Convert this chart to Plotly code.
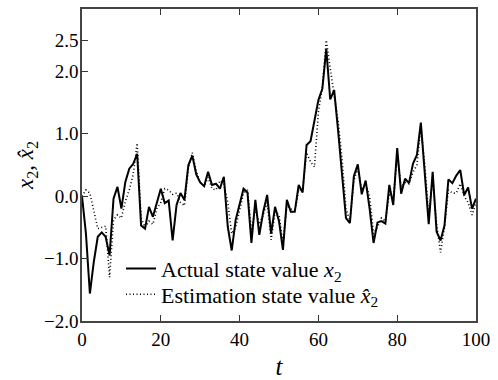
import plotly.graph_objects as go

t = list(range(0, 101))

actual_x2 = [
    0.0, -0.6, -1.56, -1.05, -0.65, -0.58, -0.65, -0.95, -0.04, 0.15,
    -0.2, 0.23, 0.44, 0.52, 0.68, -0.47, -0.52, -0.17, -0.33, -0.1,
    0.12, -0.11, -0.07, -0.71, -0.14, 0.05, -0.06, 0.5, 0.65, 0.35,
    0.22, 0.16, 0.39, 0.18, 0.2, 0.12, 0.31, -0.49, -0.87, -0.38,
    -0.15, 0.12, 0.06, -0.75, -0.06, -0.62, -0.25, 0.02, -0.6, -0.17,
    -0.4, -0.86, -0.06, -0.25, -0.25, 0.18, 0.06, 0.82, 0.88, 1.22,
    1.54, 1.72, 2.36, 1.55, 1.7, 1.05, 0.35, -0.35, -0.43, 0.32,
    0.51, 0.03, 0.25, -0.2, -0.75, -0.42, -0.4, -0.44, 0.18, -0.14,
    0.77, 0.04, 0.28, 0.21, 0.52, 0.66, 1.18, 0.35, -0.45, 0.39,
    -0.57, -0.71, -0.47, 0.27, 0.21, 0.33, 0.42, 0.02, 0.14, -0.2,
    -0.04,
]

estimate_x2 = [
    0.0, 0.1, 0.05, -0.25, -0.52, -0.5, -0.48, -1.3, -0.38, -0.3,
    -0.35, -0.08, 0.1, 0.35, 0.85, -0.35, -0.5, -0.4, -0.45, -0.2,
    -0.1, 0.12, 0.1, 0.03, 0.05, -0.1, -0.15, 0.45, 0.7, 0.4,
    0.22, 0.16, 0.3, 0.12, 0.1, 0.25, 0.2, -0.1, -0.6, -0.5,
    -0.2, 0.05, 0.1, -0.55, -0.2, -0.45, -0.3, -0.1, -0.7, -0.25,
    -0.3, -0.75, -0.15, -0.2, -0.25, 0.1, 0.1, 0.7, 0.55, 0.47,
    1.35, 1.75, 2.5, 2.05, 1.6, 1.2, 0.6, -0.2, -0.4, 0.25,
    0.45, 0.1, 0.2, 0.0, -0.6, -0.5, -0.35, -0.4, 0.05, -0.05,
    0.65, 0.15, 0.22, 0.2, 0.38, 0.5, 1.1, 0.5, -0.3, 0.3,
    -0.45, -0.9, -0.5, 0.1, 0.05, 0.05, 0.2, 0.0, -0.1, -0.3,
    -0.1,
]

x_ticks = [0, 20, 40, 60, 80, 100]
y_ticks = [-2.0, -1.0, 0.0, 1.0, 2.0, 2.5]
y_tick_labels = ["\u22122.0", "\u22121.0", "0.0", "1.0", "2.0", "2.5"]

font_family = "Liberation Serif, Times New Roman, serif"

fig = go.Figure()
fig.add_trace(go.Scatter(
    x=t, y=actual_x2, mode="lines",
    name="Actual state value <i>x</i><sub>2</sub>",
    line=dict(color="black", width=2),
    legend="legend",
))
fig.add_trace(go.Scatter(
    x=t, y=estimate_x2, mode="lines",
    name="Estimation state value <i>x\u0302</i><sub>2</sub>",
    line=dict(color="black", width=1.6, dash="1px,2.5px"),
    legend="legend2",
))

legend_style = dict(
    x=0.099, xanchor="left", yanchor="middle",
    bgcolor="rgba(0,0,0,0)", borderwidth=0,
    font=dict(family=font_family, size=22, color="black"),
    itemwidth=30,
)

fig.update_layout(
    width=498, height=380,
    margin=dict(l=82, r=22, t=9, b=59),
    paper_bgcolor="white", plot_bgcolor="white",
    font=dict(family=font_family, size=19, color="black"),
    showlegend=True,
    legend=dict(y=0.168, **legend_style),
    legend2=dict(y=0.085, **legend_style),
)

fig.update_xaxes(
    range=[0, 100], tickvals=x_ticks, ticks="inside", ticklen=6,
    tickcolor="#333", tickwidth=1.2,
    showline=True, linecolor="#444", linewidth=1.5, mirror="ticks",
    showgrid=False, zeroline=False, automargin=False,
    ticklabelstandoff=0,
    tickfont=dict(family=font_family, size=19, color="black"),
    title=dict(text="<i>t</i>", font=dict(family=font_family, size=25, color="black"), standoff=25),
)
fig.update_yaxes(
    range=[-2.0, 3.0], tickvals=y_ticks, ticktext=y_tick_labels,
    ticks="inside", ticklen=6, tickcolor="#333", tickwidth=1.2,
    showline=True, linecolor="#444", linewidth=1.5, mirror=True,
    showgrid=False, zeroline=False, automargin=False,
    ticklabelstandoff=-2,
    tickfont=dict(family=font_family, size=19, color="black"),
    title=dict(text="<i>x</i><sub>2</sub>, <i>x\u0302</i><sub>2</sub>",
               font=dict(family=font_family, size=23, color="black"), standoff=4),
)

fig.write_html("out.html")
